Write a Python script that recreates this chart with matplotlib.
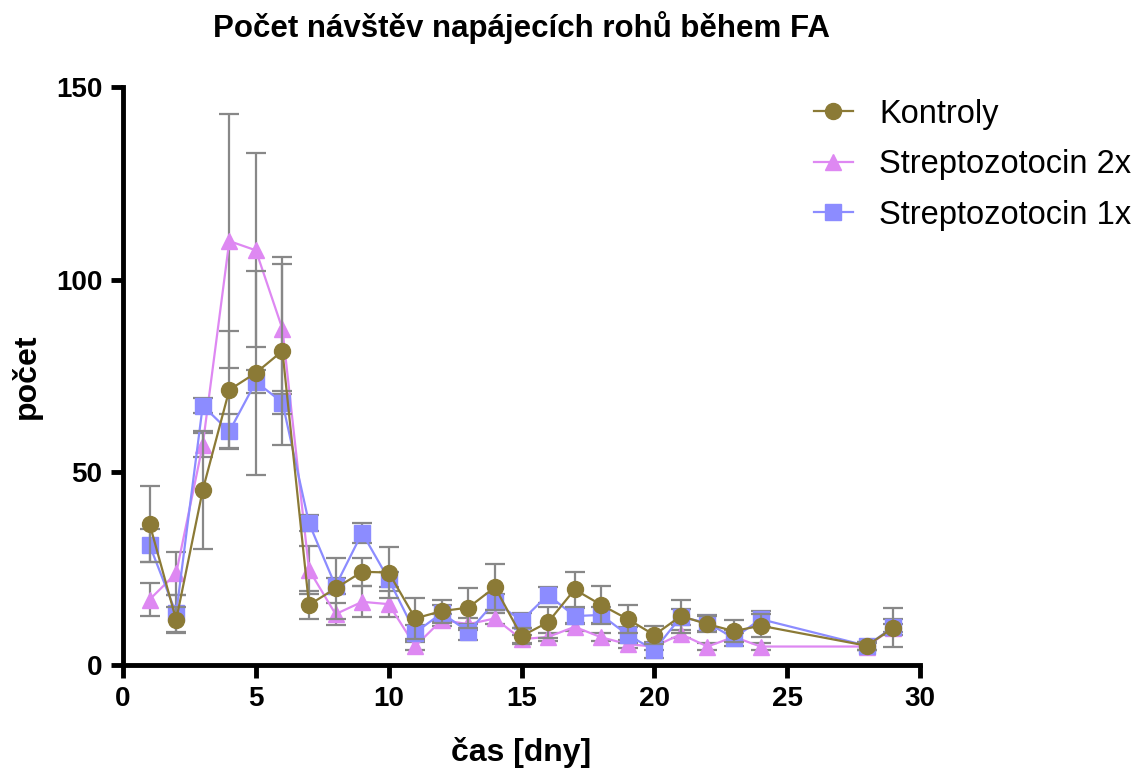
import matplotlib.pyplot as plt

plt.rcParams['font.family'] = ['Liberation Sans', 'DejaVu Sans']

dny = [1, 2, 3, 4, 5, 6, 7, 8, 9, 10, 11, 12, 13, 14, 15, 16, 17, 18, 19, 20,
       21, 22, 23, 24, 28, 29]

kontroly = [36.6, 11.7, 45.4, 71.4, 75.8, 81.5, 15.6, 19.9, 24.2, 24.0, 12.1,
            14.0, 14.9, 20.2, 7.5, 11.1, 19.6, 15.6, 11.9, 7.8, 12.7, 10.6,
            8.8, 10.2, 5.0, 9.7]
kontroly_sem = [9.9, 3.3, 15.2, 15.2, 26.5, 24.4, 3.7, 8.0, 3.7, 6.6, 5.4, 3.0,
                5.2, 6.0, 2.0, 4.0, 4.6, 4.9, 3.7, 2.3, 4.3, 2.0, 2.9, 3.0,
                1.0, 5.0]

stz2 = [17.0, 23.8, 57.1, 110.0, 107.6, 87.2, 24.7, 13.2, 16.4, 15.8, 4.9,
        11.7, 10.6, 12.1, 6.7, 7.3, 9.9, 7.2, 5.4, 4.8, 8.0, 4.8, 7.3, 4.8,
        4.8, 9.7]
stz2_sem = [4.2, 5.6, 3.0, 33.0, 25.2, 16.8, 6.3, 2.8, 4.0, 3.4, 1.0, 1.5,
            1.5, 1.5, 1.0, 1.0, 1.0, 1.0, 1.0, 1.0, 1.0, 1.0, 1.0, 1.0, 1.0,
            1.0]

stz1 = [31.1, 13.4, 67.3, 60.6, 73.5, 68.1, 36.8, 20.5, 34.3, 22.2, 8.4, 13.5,
        8.6, 16.4, 11.5, 18.2, 12.7, 13.0, 7.8, 3.9, 12.5, 10.9, 7.0, 11.9,
        5.0, 9.9]
stz1_sem = [4.3, 4.7, 2.0, 4.5, 3.0, 3.0, 2.0, 2.0, 2.6, 2.0, 2.0, 2.0, 2.0,
            2.0, 2.0, 2.0, 2.0, 2.0, 2.0, 2.0, 2.0, 2.0, 2.0, 2.0, 1.0, 2.0]

fig = plt.figure(figsize=(11.31, 7.76), dpi=100)
ax = fig.add_axes([0.1088, 0.143, 0.7046, 0.745])

serie = [
    (stz2, stz2_sem, 'Streptozotocin 2x', '#DE88F2', '^', 1),
    (stz1, stz1_sem, 'Streptozotocin 1x', '#8C8CFF', 's', 2),
    (kontroly, kontroly_sem, 'Kontroly', '#8B7A36', 'o', 3),
]

handles = {}
for y, e, nazev, barva, znacka, z in serie:
    ax.errorbar(dny, y, yerr=e, fmt='none', ecolor='#888888', elinewidth=1.6,
                capsize=7, capthick=1.6, zorder=z)
    h, = ax.plot(dny, y, color=barva, marker=znacka, markersize=11.5,
                 linewidth=1.6, label=nazev, zorder=z + 0.5)
    handles[nazev] = h

ax.set_xlim(0, 30)
ax.set_ylim(0, 150)
ax.set_xticks([0, 5, 10, 15, 20, 25, 30])
ax.set_yticks([0, 50, 100, 150])

for s in ['top', 'right']:
    ax.spines[s].set_visible(False)
for s in ['left', 'bottom']:
    ax.spines[s].set_linewidth(3.5)
ax.tick_params(width=3.5, length=9, labelsize=20, pad=6)
for lab in ax.get_xticklabels() + ax.get_yticklabels():
    lab.set_fontweight('bold')

ax.set_xlabel('čas [dny]', fontsize=23, fontweight='bold', labelpad=18)
ax.set_ylabel('počet', fontsize=23, fontweight='bold', labelpad=10)
ax.set_title('Počet návštěv napájecích rohů během FA', fontsize=22.5,
             fontweight='bold', pad=36)

poradi = ['Kontroly', 'Streptozotocin 2x', 'Streptozotocin 1x']
fig.legend([handles[n] for n in poradi], poradi, loc='upper left',
           bbox_to_anchor=(0.7195, 0.873), frameon=False, fontsize=23.5,
           borderpad=0, borderaxespad=0, handlelength=1.2,
           handletextpad=0.8, labelspacing=0.6)

fig.savefig('out.png', dpi=100)
